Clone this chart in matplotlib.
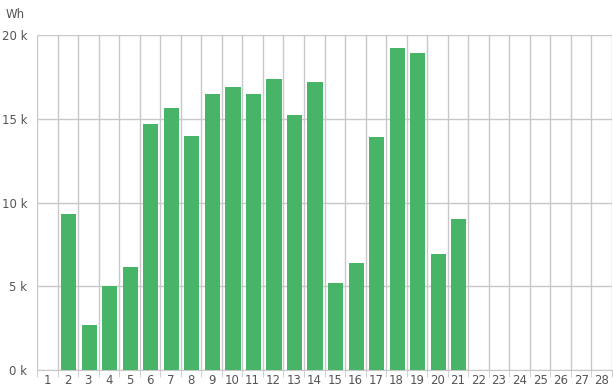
import numpy as np
import matplotlib
matplotlib.use('Agg')
import matplotlib.pyplot as plt

days = list(range(1, 29))
energy_k = [0, 9.31, 2.69, 5.01, 6.15, 14.69, 15.64, 13.97, 16.48, 16.9,
            16.48, 17.37, 15.22, 17.19, 5.19, 6.39, 13.91, 19.22, 18.93, 6.93,
            9.01, 0, 0, 0, 0, 0, 0, 0]
yticks = [0, 5, 10, 15, 20]
ytick_labels = ['0 k', '5 k', '10 k', '15 k', '20 k']

grid_col = '#c8c8c8'
text_col = '#555555'

fig = plt.figure(figsize=(6.13, 3.92), dpi=100)
ax = fig.add_axes([37 / 613, 22 / 392, 575 / 613, 335 / 392])

x = np.arange(len(days))
ax.bar(x + 0.04, energy_k, width=0.74, color='#48b468', zorder=3)

ax.set_xlim(-0.5, len(days) - 0.5)
ax.set_ylim(0, 20)

# vertical grid at category boundaries
bounds = np.arange(len(days) + 1) - 0.5
for b in bounds:
    ax.axvline(b, color=grid_col, lw=1, zorder=1)
ax.set_yticks(yticks)
ax.set_yticklabels(ytick_labels)
ax.yaxis.grid(True, color=grid_col, lw=1, zorder=1)
ax.set_axisbelow(True)

ax.set_xticks(x)
ax.set_xticklabels([str(d) for d in days])
ax.set_xticks(bounds, minor=True)
ax.tick_params(axis='x', which='major', length=0, pad=3, labelsize=8.5, colors=text_col)
ax.tick_params(axis='x', which='minor', length=5, color=grid_col)
ax.tick_params(axis='y', length=0, pad=7, labelsize=8.5, colors=text_col)

for s in ['top', 'right', 'left']:
    ax.spines[s].set_visible(False)
ax.spines['bottom'].set_color(grid_col)

fig.text(6 / 613, 1 - 14 / 392, 'Wh', fontsize=8.5, color=text_col, va='center')

fig.savefig('out.png', dpi=100)
